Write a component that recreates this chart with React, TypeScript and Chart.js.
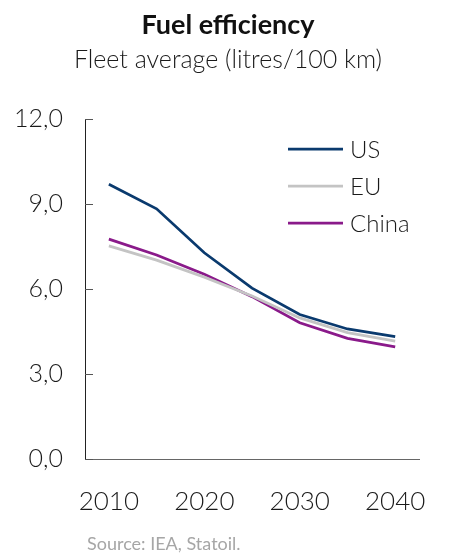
import React, { useEffect, useRef } from "react";
import { Chart, registerables } from "chart.js";

Chart.register(...registerables);

const years = ["2010", "2015", "2020", "2025", "2030", "2035", "2040"];
const usValues = [9.7, 8.83, 7.28, 6.03, 5.1, 4.59, 4.32];
const euValues = [7.52, 7.02, 6.42, 5.75, 4.98, 4.46, 4.16];
const chinaValues = [7.76, 7.2, 6.52, 5.73, 4.81, 4.26, 3.96];
const yTicks = [0, 3, 6, 9, 12];
const titleText = "Fuel efficiency";
const subtitleText = "Fleet average (litres/100 km)";
const sourceText = "Source: IEA, Statoil.";

const FONT = "Lato, 'Open Sans', sans-serif";

const textPlugin = {
  id: "texts",
  afterDraw(chart: any) {
    const ctx = chart.ctx;
    ctx.save();
    ctx.textAlign = "center";
    ctx.textBaseline = "alphabetic";
    ctx.fillStyle = "#111";
    ctx.font = `bold 27px ${FONT}`;
    ctx.fillText(titleText, 228, 34);
    ctx.font = `300 25px ${FONT}`;
    ctx.fillStyle = "#1a1a1a";
    ctx.fillText(subtitleText, 228, 68);
    ctx.textAlign = "left";
    ctx.font = `18px ${FONT}`;
    ctx.fillStyle = "#a6a6a6";
    ctx.fillText(sourceText, 87, 550);
    ctx.restore();
  },
};

const tickPlugin = {
  id: "innerTicks",
  afterDatasetsDraw(chart: any) {
    const ctx = chart.ctx;
    const y = chart.scales.y;
    ctx.save();
    ctx.strokeStyle = "#555";
    ctx.lineWidth = 1;
    yTicks.forEach((v) => {
      const py = Math.round(y.getPixelForValue(v)) + 0.5;
      ctx.beginPath();
      ctx.moveTo(y.right, py);
      ctx.lineTo(y.right + 8, py);
      ctx.stroke();
    });
    ctx.restore();
  },
};

const legendPlugin = {
  id: "customLegend",
  afterDraw(chart: any) {
    const ctx = chart.ctx;
    const area = chart.chartArea;
    ctx.save();
    ctx.font = `300 24px ${FONT}`;
    ctx.textBaseline = "middle";
    ctx.textAlign = "left";
    chart.data.datasets.forEach((ds: any, i: number) => {
      const cy = area.top + 30 + i * 37;
      const x0 = area.left + 203;
      ctx.strokeStyle = ds.borderColor;
      ctx.lineWidth = 2.75;
      ctx.beginPath();
      ctx.moveTo(x0, cy);
      ctx.lineTo(x0 + 55, cy);
      ctx.stroke();
      ctx.fillStyle = "#1a1a1a";
      ctx.fillText(ds.label, x0 + 62, cy + 1);
    });
    ctx.restore();
  },
};

export default function App() {
  const ref = useRef<HTMLCanvasElement>(null);
  useEffect(() => {
    if (!ref.current) return;
    const chart = new Chart(ref.current, {
      type: "line",
      data: {
        labels: years,
        datasets: [
          { label: "US", data: usValues, borderColor: "#0a3a6e", backgroundColor: "#0a3a6e" },
          { label: "EU", data: euValues, borderColor: "#c4c4c4", backgroundColor: "#c4c4c4" },
          { label: "China", data: chinaValues, borderColor: "#8a1a8a", backgroundColor: "#8a1a8a" },
        ].map((d) => ({ ...d, borderWidth: 2.75, pointRadius: 0, tension: 0, fill: false })),
      },
      options: {
        animation: false,
        responsive: true,
        maintainAspectRatio: false,
        layout: { padding: { left: 0, right: 9, top: 119, bottom: 0 } },
        plugins: {
          legend: { display: false },
          title: { display: false },
          tooltip: { enabled: false },
        },
        scales: {
          x: {
            type: "category",
            offset: true,
            grid: { display: false, drawTicks: false },
            border: { display: true, color: "#666", width: 1 },
            ticks: {
              autoSkip: false,
              maxRotation: 0,
              padding: 27,
              color: "#1a1a1a",
              font: { family: FONT, size: 26, weight: "300" },
              callback: (_v: any, i: number) => (years[i].endsWith("0") ? years[i] : ""),
            },
            afterFit: (scale: any) => {
              scale.height = 553 - 459;
            },
          },
          y: {
            min: 0,
            max: 12,
            afterBuildTicks: (scale: any) => {
              scale.ticks = yTicks.map((v) => ({ value: v }));
            },
            grid: { display: false, drawTicks: false },
            border: { display: true, color: "#222", width: 1 },
            ticks: {
              padding: 22,
              color: "#1a1a1a",
              font: { family: FONT, size: 25, weight: "300" },
              callback: (v: any) => Number(v).toFixed(1).replace(".", ","),
            },
            afterFit: (scale: any) => {
              scale.width = 85;
            },
          },
        },
      },
      plugins: [textPlugin, tickPlugin, legendPlugin],
    });
    return () => chart.destroy();
  }, []);
  return (
    <div style={{ position: "fixed", left: 0, top: 0, width: 453, height: 553, background: "#fff" }}>
      <canvas ref={ref} />
    </div>
  );
}
